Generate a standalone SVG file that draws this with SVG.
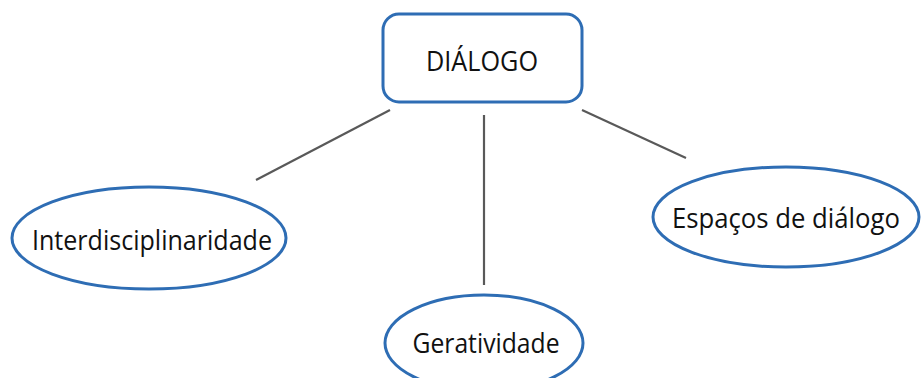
<svg xmlns="http://www.w3.org/2000/svg" width="923" height="378" viewBox="0 0 923 378">
  <style>
    .node { fill: #ffffff; stroke: #2e6db4; stroke-width: 3; }
    .label { font-family: "Open Sans", "Noto Sans", "DejaVu Sans", sans-serif; font-size: 28px; fill: #111111; text-anchor: middle; }
    .link { stroke: #595959; stroke-width: 2.2; fill: none; }
  </style>
  <rect width="923" height="378" fill="#ffffff"/>
  <g id="connectors">
    <line class="link" x1="390" y1="110" x2="256" y2="180"/>
    <line class="link" x1="484" y1="115" x2="484" y2="285"/>
    <line class="link" x1="582" y1="110" x2="686" y2="158"/>
  </g>
  <g id="dialogo">
    <rect class="node" x="383" y="14" width="199" height="88" rx="16" ry="16"/>
    <text class="label" x="482" y="71" textLength="112" lengthAdjust="spacingAndGlyphs">DIÁLOGO</text>
  </g>
  <g id="interdisciplinaridade">
    <ellipse class="node" cx="149" cy="238" rx="137" ry="51"/>
    <text class="label" x="152" y="250" textLength="240" lengthAdjust="spacingAndGlyphs">Interdisciplinaridade</text>
  </g>
  <g id="espacos">
    <ellipse class="node" cx="786" cy="217" rx="133" ry="50"/>
    <text class="label" x="786" y="228" textLength="228" lengthAdjust="spacingAndGlyphs">Espaços de diálogo</text>
  </g>
  <g id="geratividade">
    <ellipse class="node" cx="484" cy="343" rx="99" ry="48"/>
    <text class="label" x="486" y="353" textLength="147" lengthAdjust="spacingAndGlyphs">Geratividade</text>
  </g>
</svg>
